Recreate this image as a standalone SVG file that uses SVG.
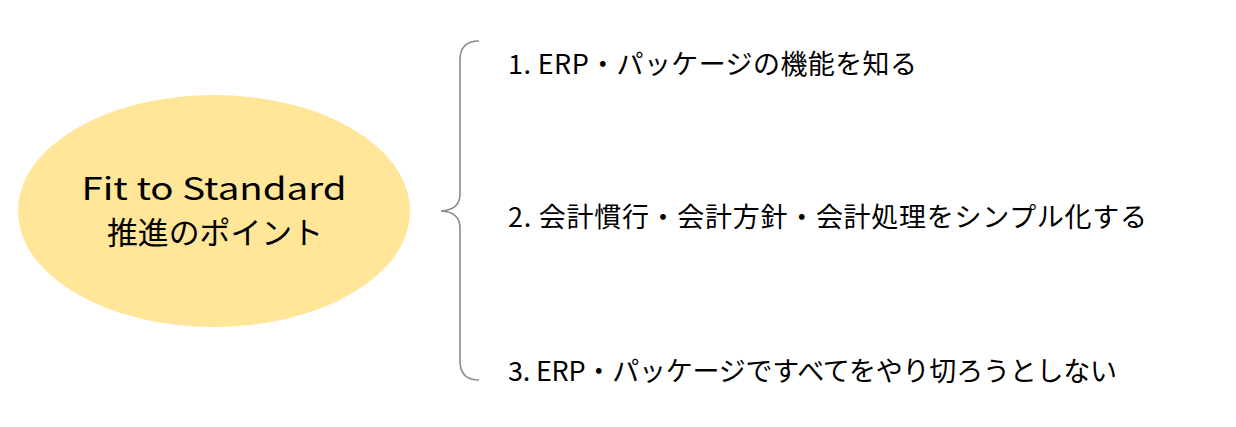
<svg xmlns="http://www.w3.org/2000/svg" width="1236" height="427" viewBox="0 0 1236 427">
<style>
.t{font-family:"Noto Sans CJK JP","Noto Sans",sans-serif;fill:#000;font-weight:400;}
.item{font-size:27px;}
.main{font-size:31px;text-anchor:middle;}
.brace{fill:none;stroke:#8c8c8c;stroke-width:1.6;}
</style>
<rect width="1236" height="427" fill="#fff"/>
<g id="center-node">
<ellipse cx="214" cy="211" rx="196" ry="116" fill="#FFE699"/>
<text class="t main" x="214" y="200" textLength="265" lengthAdjust="spacingAndGlyphs">Fit to Standard</text>
<text class="t main" x="215" y="244" textLength="216" lengthAdjust="spacingAndGlyphs">推進のポイント</text>
</g>
<g id="connectors">
<path class="brace" d="M479,41 Q460,41 460,60 L460,194 Q460,210 441,211 Q460,212 460,228 L460,361 Q460,380 479,380"/>
</g>
<g id="item1">
<text class="t item" x="508" y="74" textLength="409" lengthAdjust="spacing">1. ERP・パッケージの機能を知る</text>
</g>
<g id="item2">
<text class="t item" x="508" y="227" textLength="639" lengthAdjust="spacing">2. 会計慣行・会計方針・会計処理をシンプル化する</text>
</g>
<g id="item3">
<text class="t item" x="508" y="381" textLength="609" lengthAdjust="spacing">3. ERP・パッケージですべてをやり切ろうとしない</text>
</g>
</svg>
